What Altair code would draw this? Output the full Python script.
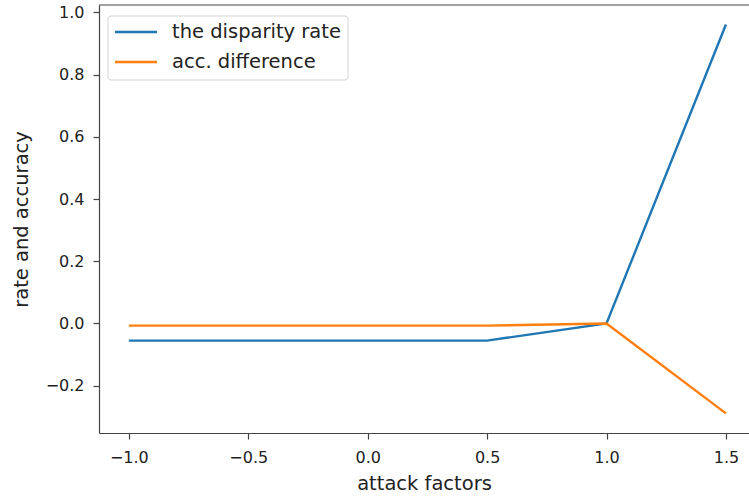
import altair as alt
import pandas as pd

x_vals = [-1.0, -0.5, 0.0, 0.5, 1.0, 1.5]
disparity = [-0.055, -0.055, -0.055, -0.055, 0.0, 0.961]
acc_diff = [-0.007, -0.007, -0.007, -0.007, 0.0, -0.289]
series_names = ["the disparity rate", "acc. difference"]
colors = ["#1f77b4", "#ff7f0e"]

rows = []
for xv, d, a in zip(x_vals, disparity, acc_diff):
    rows.append({"x": xv, "y": d, "series": series_names[0]})
    rows.append({"x": xv, "y": a, "series": series_names[1]})
df = pd.DataFrame(rows)
one = pd.DataFrame({"k": [0]})

font = "DejaVu Sans"
W, H = 650, 428
spine = "#444"

lines = alt.Chart(df).mark_line(strokeWidth=2.4, clip=True).encode(
    x=alt.X("x:Q",
            scale=alt.Scale(domain=[-1.125, 1.5966], nice=False, zero=False),
            axis=alt.Axis(title="attack factors", values=[-1.0, -0.5, 0.0, 0.5, 1.0, 1.5],
                          format=".1f", grid=False, tickSize=6, labelPadding=10,
                          titlePadding=9)),
    y=alt.Y("y:Q",
            scale=alt.Scale(domain=[-0.352, 1.0235], nice=False, zero=False),
            axis=alt.Axis(title="rate and accuracy", values=[-0.2, 0.0, 0.2, 0.4, 0.6, 0.8, 1.0],
                          format=".1f", grid=False, tickSize=6, labelPadding=9,
                          titlePadding=14)),
    color=alt.Color("series:N",
                    scale=alt.Scale(domain=series_names, range=colors),
                    legend=None),
    order=alt.Order("x:Q"),
)

top_spine = alt.Chart(one).mark_rule(color=spine, strokeWidth=1.2).encode(
    x=alt.value(0), x2=alt.value(W), y=alt.value(0)
)

# manual legend (matplotlib-style box in the upper left)
legend_layers = [
    alt.Chart(one).mark_rect(fill="white", stroke="#d0d0d0", strokeWidth=1,
                             cornerRadius=3, opacity=0.9).encode(
        x=alt.value(9), x2=alt.value(249), y=alt.value(11), y2=alt.value(75))
]
for i, (name, col) in enumerate(zip(series_names, colors)):
    ypos = 27 + 30 * i
    legend_layers.append(
        alt.Chart(one).mark_rule(color=col, strokeWidth=2.4).encode(
            x=alt.value(16), x2=alt.value(58), y=alt.value(ypos))
    )
    legend_layers.append(
        alt.Chart(pd.DataFrame({"label": [name]})).mark_text(
            align="left", baseline="middle", font=font, fontSize=19.5, color="#222"
        ).encode(x=alt.value(73), y=alt.value(ypos), text="label:N")
    )

chart = alt.layer(lines, top_spine, *legend_layers).properties(
    width=W, height=H,
    autosize="none",
    padding={"left": 99, "top": 5, "right": 0, "bottom": 66},
).configure_view(
    stroke=None
).configure_axis(
    domainColor=spine, tickColor=spine, labelColor="#222", titleColor="#222",
    labelFont=font, titleFont=font, labelFontSize=16, titleFontSize=19.5,
    titleFontWeight="normal", domainWidth=1.2, tickWidth=1.2,
)

chart.save("out.html", embed_options={"renderer": "svg", "actions": False})
